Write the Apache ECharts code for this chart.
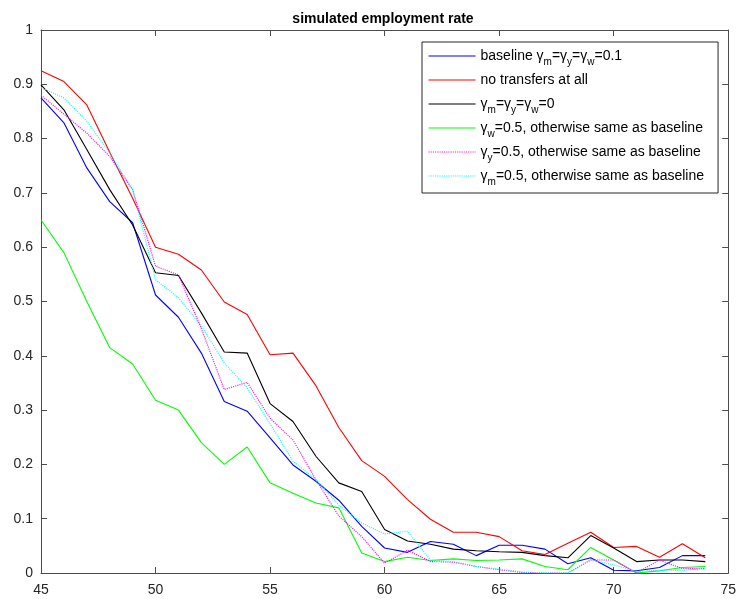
<!DOCTYPE html>
<html>
<head>
<meta charset="utf-8">
<script src="https://cdn.jsdelivr.net/npm/echarts@6/dist/echarts.min.js"></script>
<style>html,body{margin:0;padding:0;background:#fff}#c{width:739px;height:599px}</style>
</head>
<body>
<div id="c"></div>
<script>
var ages = [45,46,47,48,49,50,51,52,53,54,55,56,57,58,59,60,61,62,63,64,65,66,67,68,69,70,71,72,73,74];
var baseline = [0.875,0.829,0.746,0.684,0.645,0.512,0.471,0.405,0.316,0.298,0.249,0.199,0.169,0.134,0.086,0.046,0.038,0.058,0.053,0.032,0.051,0.051,0.044,0.017,0.028,0.005,0.004,0.010,0.032,0.032];
var noTransfers = [0.925,0.905,0.862,0.775,0.690,0.600,0.587,0.558,0.499,0.476,0.402,0.405,0.345,0.268,0.207,0.178,0.135,0.099,0.075,0.075,0.067,0.041,0.034,0.055,0.075,0.047,0.049,0.029,0.054,0.028];
var gammaZero = [0.899,0.853,0.780,0.706,0.641,0.553,0.548,0.479,0.407,0.405,0.312,0.279,0.215,0.166,0.150,0.080,0.059,0.053,0.044,0.041,0.039,0.038,0.032,0.028,0.069,0.046,0.021,0.024,0.024,0.021];
var gammaW = [0.650,0.590,0.500,0.415,0.385,0.318,0.300,0.240,0.200,0.232,0.166,0.147,0.129,0.120,0.037,0.021,0.029,0.023,0.026,0.023,0.024,0.026,0.012,0.006,0.047,0.024,0.000,0.004,0.010,0.012];
var gammaY = [0.880,0.845,0.810,0.767,0.706,0.565,0.549,0.450,0.338,0.351,0.285,0.245,0.172,0.105,0.067,0.018,0.042,0.021,0.020,0.012,0.006,0.001,0.000,0.000,0.024,0.024,0.000,0.024,0.008,0.008];
var gammaM = [0.894,0.875,0.832,0.774,0.706,0.540,0.507,0.455,0.387,0.341,0.275,0.206,0.172,0.125,0.092,0.072,0.077,0.024,0.021,0.012,0.007,0.002,0.000,0.000,0.024,0.015,0.003,0.005,0.005,0.008];
var xTicks = {min: 45, max: 75, step: 5};
var yTicks = {min: 0, max: 1, step: 0.1};
var legendNames = ['baseline','none','zero','gw','gy','gm'];
var legendLabels = {
  baseline: 'baseline γ{s|m}=γ{s|y}=γ{s|w}=0.1',
  none: 'no transfers at all',
  zero: 'γ{s|m}=γ{s|y}=γ{s|w}=0',
  gw: 'γ{s|w}=0.5, otherwise same as baseline',
  gy: 'γ{s|y}=0.5, otherwise same as baseline',
  gm: 'γ{s|m}=0.5, otherwise same as baseline'
};
var FONT = '"Liberation Sans", Arial, Helvetica, sans-serif';
function pairs(v){ return ages.map(function(a,i){ return [a, v[i]]; }); }
function mk(name, vals, color, type){
  return {name: name, type: 'line', data: pairs(vals), symbol: 'none', showSymbol: false,
    lineStyle: {color: color, width: 1.1, type: type || 'solid'}, itemStyle: {color: color},
    animation: false, silent: true, xAxisIndex: 0, yAxisIndex: 0};
}
var axisCol = '#4d4d4d';
function xa(pos, showLabel){
  return {type: 'value', position: pos, min: xTicks.min, max: xTicks.max, interval: xTicks.step,
    axisLine: {show: true, onZero: false, lineStyle: {color: axisCol, width: 1}},
    axisTick: {show: true, inside: true, length: 6, lineStyle: {color: axisCol}},
    axisLabel: {show: showLabel, color: '#262626', fontSize: 14, fontFamily: FONT, margin: 10},
    splitLine: {show: false}};
}
function ya(pos, showLabel){
  return {type: 'value', position: pos, min: yTicks.min, max: yTicks.max, interval: yTicks.step,
    axisLine: {show: true, onZero: false, lineStyle: {color: axisCol, width: 1}},
    axisTick: {show: true, inside: true, length: 6, lineStyle: {color: axisCol}},
    axisLabel: {show: showLabel, color: '#262626', fontSize: 14, fontFamily: FONT, margin: 8,
      formatter: function(v){ return String(Math.round(v*10)/10); }},
    splitLine: {show: false}};
}
var chart = echarts.init(document.getElementById('c'), null, {renderer: 'canvas'});
chart.setOption({
  backgroundColor: '#ffffff',
  animation: false,
  title: {text: 'simulated employment rate', left: 378, top: 7, textAlign: 'center',
    textStyle: {fontSize: 14, fontWeight: 'bold', color: '#000', fontFamily: FONT}},
  grid: {left: 41, top: 30, width: 690, height: 543, containLabel: false},
  xAxis: [xa('bottom', true), xa('top', false)],
  yAxis: [ya('left', true), ya('right', false)],
  legend: {
    data: legendNames, orient: 'vertical', left: 422, top: 42,
    padding: [3, 14, 6, 6], itemGap: 2, itemWidth: 47, itemHeight: 10,
    borderColor: '#262626', borderWidth: 1, backgroundColor: '#fff',
    selectedMode: false,
    itemStyle: {opacity: 0},
    lineStyle: {width: 1.1},
    formatter: function(n){ return legendLabels[n]; },
    textStyle: {fontSize: 14, color: '#000', fontFamily: FONT, lineHeight: 22,
      rich: {s: {fontSize: 10, lineHeight: 10, verticalAlign: 'bottom', color: '#000', fontFamily: FONT}}}
  },
  series: [
    mk('baseline', baseline, '#0000ff'),
    mk('none', noTransfers, '#ff0000'),
    mk('zero', gammaZero, '#000000'),
    mk('gw', gammaW, '#00ff00'),
    mk('gy', gammaY, '#ff00ff', 'dotted'),
    mk('gm', gammaM, '#00ffff', 'dotted')
  ]
});
</script>
</body>
</html>
